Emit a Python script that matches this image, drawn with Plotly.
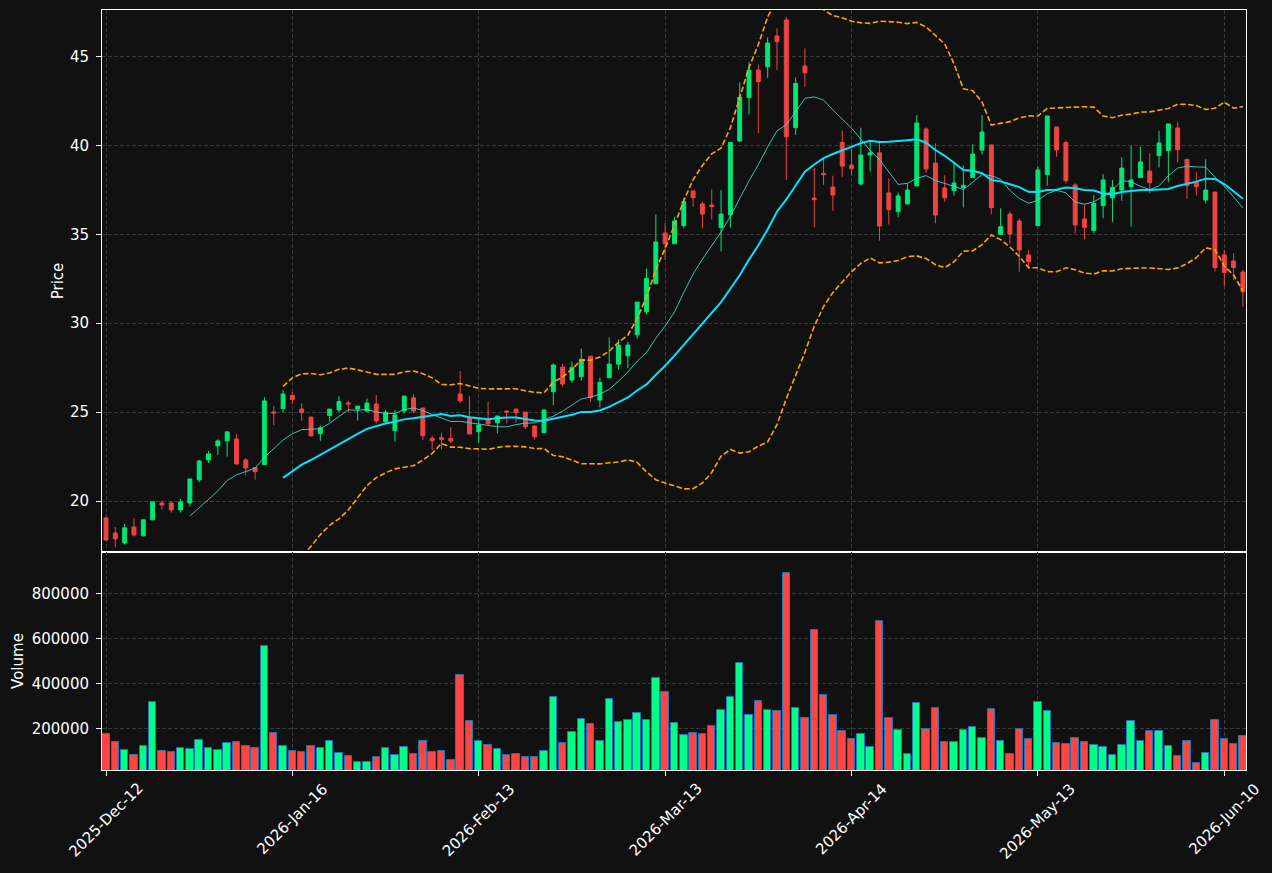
import numpy as np
import pandas as pd
import plotly.graph_objects as go
from plotly.subplots import make_subplots

# ---------------- data ----------------
opens = [19.05, 18.20, 17.64, 18.54, 18.04, 18.94, 19.89, 19.89, 19.50, 19.89,
         21.19, 22.31, 23.10, 23.38, 23.49, 22.31, 21.88, 22.05, 25.01, 25.20,
         25.93, 25.17, 24.72, 23.79, 24.80, 25.12, 25.52, 25.17, 25.06, 25.46,
         24.46, 23.96, 25.06, 25.81, 25.23, 23.52, 23.56, 23.52, 26.02, 24.65,
         23.90, 24.57, 24.40, 25.06, 25.17, 25.00, 24.22, 23.84, 26.15, 27.53,
         26.80, 26.99, 28.15, 25.68, 26.93, 27.70, 28.17, 29.35, 30.65, 32.22,
         35.07, 34.47, 35.49, 37.44, 36.71, 36.65, 35.38, 36.09, 40.25, 42.69,
         44.24, 44.43, 46.16, 47.06, 41.00, 44.47, 37.04, 38.43, 37.66, 40.16,
         38.90, 37.83, 39.46, 39.59, 37.33, 36.28, 36.71, 37.72, 40.93, 39.01,
         37.61, 37.46, 37.63, 38.19, 39.74, 40.03, 35.00, 36.14, 35.75, 33.84,
         35.49, 38.36, 41.04, 40.16, 37.78, 35.86, 35.21, 36.61, 37.06, 37.49,
         37.68, 38.19, 38.56, 39.43, 39.71, 40.98, 39.22, 37.93, 36.93, 37.38,
         33.84, 33.50, 32.88]
highs = [19.10, 18.54, 18.71, 19.05, 18.97, 19.96, 20.02, 19.99, 20.12, 21.24,
         22.31, 22.82, 23.47, 23.90, 23.77, 22.42, 21.88, 25.83, 25.35, 26.25,
         26.15, 25.49, 24.75, 24.25, 25.17, 25.89, 25.64, 25.34, 25.77, 25.96,
         25.12, 25.12, 25.90, 26.02, 25.23, 23.66, 23.84, 24.14, 27.31, 25.90,
         24.65, 25.58, 24.80, 25.12, 25.17, 25.00, 24.27, 25.12, 27.74, 27.70,
         27.83, 28.58, 28.15, 26.95, 29.20, 29.09, 28.96, 31.19, 33.08, 36.12,
         35.62, 35.99, 37.06, 37.44, 36.84, 37.53, 37.49, 40.16, 43.55, 44.68,
         44.56, 46.08, 46.59, 47.24, 43.83, 45.46, 38.75, 39.24, 38.30, 40.83,
         39.82, 41.00, 40.27, 40.27, 38.15, 37.36, 37.83, 41.71, 41.02, 40.12,
         38.32, 39.00, 38.88, 40.06, 41.71, 40.03, 36.46, 36.28, 35.90, 34.12,
         38.81, 41.66, 41.04, 40.27, 37.87, 36.65, 37.21, 38.38, 38.06, 39.33,
         39.99, 39.93, 39.56, 40.83, 41.21, 41.34, 39.22, 38.49, 39.22, 37.38,
         34.12, 33.93, 33.00]
lows = [17.75, 17.40, 17.55, 18.00, 18.00, 18.93, 19.53, 19.35, 19.35, 19.69,
        21.05, 22.14, 22.59, 22.50, 22.05, 21.43, 21.20, 22.05, 24.26, 24.99,
        25.50, 24.52, 23.63, 23.39, 24.46, 24.99, 24.99, 24.52, 25.00, 24.37,
        24.37, 23.34, 24.93, 24.93, 23.43, 22.87, 22.90, 23.24, 25.50, 23.77,
        23.28, 24.22, 23.80, 24.37, 24.42, 24.05, 23.47, 23.84, 25.38, 26.43,
        26.65, 26.76, 25.56, 25.27, 26.93, 27.40, 27.46, 29.15, 30.50, 32.22,
        33.55, 34.47, 35.34, 36.56, 35.34, 35.84, 34.03, 35.38, 40.20, 41.75,
        40.68, 43.81, 44.24, 38.06, 40.59, 43.31, 35.39, 37.78, 36.33, 38.24,
        38.32, 37.74, 38.53, 34.65, 35.56, 35.96, 36.71, 37.72, 38.47, 35.62,
        36.84, 37.18, 36.52, 38.19, 39.50, 36.13, 35.00, 34.49, 32.90, 33.09,
        35.49, 37.74, 39.37, 37.87, 35.06, 34.72, 35.06, 35.90, 35.71, 36.89,
        35.43, 38.19, 37.31, 38.77, 37.93, 39.05, 36.99, 37.18, 36.74, 32.90,
        32.06, 32.43, 30.93]
closes = [17.81, 17.87, 18.49, 18.09, 18.94, 19.95, 19.78, 19.50, 19.95, 21.24,
          22.25, 22.65, 23.38, 23.89, 22.08, 21.86, 21.65, 25.63, 24.95, 26.02,
          25.70, 24.97, 23.66, 24.12, 25.17, 25.60, 25.46, 25.34, 25.51, 24.50,
          24.99, 24.84, 25.90, 25.06, 23.67, 23.39, 23.47, 23.37, 25.64, 23.77,
          24.27, 24.35, 24.78, 25.00, 24.97, 24.18, 23.62, 25.12, 27.65, 26.58,
          27.52, 27.97, 25.83, 26.67, 27.70, 28.77, 28.77, 31.19, 32.52, 34.57,
          34.47, 35.75, 36.84, 37.06, 36.14, 36.56, 36.14, 40.16, 42.71, 44.24,
          43.59, 45.76, 45.84, 40.49, 43.49, 44.09, 36.95, 38.36, 37.21, 38.84,
          38.70, 39.46, 39.59, 35.47, 36.39, 37.16, 37.49, 41.26, 38.68, 36.09,
          37.06, 37.89, 37.76, 39.52, 40.76, 36.50, 35.43, 35.02, 34.12, 33.46,
          38.62, 41.66, 39.75, 38.02, 35.53, 35.39, 36.74, 38.06, 37.64, 38.73,
          38.06, 39.07, 37.91, 40.14, 41.21, 39.76, 37.74, 37.68, 37.49, 33.13,
          32.85, 33.13, 31.77]
volumes = [173300, 137800, 102200, 80000, 120000, 315600, 97800, 93300, 111100, 106700,
           146700, 111100, 102200, 133300, 137800, 120000, 111100, 564400, 177800, 120000,
           97800, 93300, 120000, 111100, 142200, 88900, 75600, 48900, 48900, 71100,
           111100, 80000, 115500, 84400, 142200, 93300, 97800, 57800, 435500, 231100,
           142200, 124400, 106700, 80000, 84400, 71100, 71100, 97800, 337800, 133300,
           182200, 240000, 217800, 142200, 328900, 226700, 235600, 266700, 235600, 422200,
           360000, 222200, 168900, 177800, 173300, 208900, 280000, 337800, 488900, 257800,
           320000, 280000, 275500, 888900, 288900, 244400, 635600, 346700, 257800, 186700,
           151100, 173300, 115500, 675600, 244400, 191100, 84400, 311100, 195500, 288900,
           137800, 137800, 191100, 204400, 155500, 284400, 142200, 84400, 195500, 151100,
           315600, 275500, 133300, 128900, 155500, 137800, 124400, 115500, 80000, 124400,
           231100, 142200, 186700, 186700, 120000, 75600, 142200, 44400, 88900, 235600,
           151100, 128900, 164400]

tick_positions = [0, 20, 40, 60, 80, 100, 120]
tick_labels = ["2025-Dec-12", "2026-Jan-16", "2026-Feb-13", "2026-Mar-13",
               "2026-Apr-14", "2026-May-13", "2026-Jun-10"]

# ---------------- derived indicators ----------------
x = list(range(len(closes)))
cs = pd.Series(closes)
sma10 = cs.rolling(10).mean()
sma20 = cs.rolling(20).mean()
std20 = cs.rolling(20).std()
bb_up = sma20 + 2 * std20
bb_lo = sma20 - 2 * std20

UP_C = "#00e676"
DN_C = "#ef4444"
VUP = "#00ff88"
VDN = "#ff4444"
vol_colors = [VUP if c >= o else VDN for o, c in zip(opens, closes)]

BG = "#111111"
GRID = "#3a3a3a"
FONT = "DejaVu Sans"

fig = make_subplots(rows=2, cols=1, shared_xaxes=True, vertical_spacing=0,
                    row_heights=[0.7132, 0.2868])

fig.add_trace(go.Candlestick(
    x=x, open=opens, high=highs, low=lows, close=closes,
    increasing=dict(line=dict(color=UP_C, width=1), fillcolor=UP_C),
    decreasing=dict(line=dict(color=DN_C, width=1), fillcolor=DN_C),
    showlegend=False, hoverinfo="skip"), row=1, col=1)

fig.add_trace(go.Scatter(x=x, y=bb_up, mode="lines",
                         line=dict(color="#ffa500", width=1.6, dash="5.5px,2.5px"),
                         showlegend=False, hoverinfo="skip"), row=1, col=1)
fig.add_trace(go.Scatter(x=x, y=bb_lo, mode="lines",
                         line=dict(color="#ffa500", width=1.6, dash="5.5px,2.5px"),
                         showlegend=False, hoverinfo="skip"), row=1, col=1)
fig.add_trace(go.Scatter(x=x, y=sma10, mode="lines",
                         line=dict(color="rgba(64,224,208,0.85)", width=1),
                         showlegend=False, hoverinfo="skip"), row=1, col=1)
fig.add_trace(go.Scatter(x=x, y=sma20, mode="lines",
                         line=dict(color="#00e5ff", width=2),
                         showlegend=False, hoverinfo="skip"), row=1, col=1)

fig.add_trace(go.Bar(x=x, y=volumes, marker=dict(color=vol_colors,
                                                 line=dict(color="#1f77b4", width=1)),
                     width=0.8, showlegend=False, hoverinfo="skip"), row=2, col=1)

axis_common = dict(showline=True, linecolor="#ffffff", linewidth=1, mirror=True,
                   showgrid=True, gridcolor=GRID, griddash="4px,2px", gridwidth=1,
                   zeroline=False, tickcolor="#ffffff", ticks="outside", ticklen=5,
                   automargin=False,
                   tickfont=dict(family=FONT, size=15, color="#ffffff"))

fig.update_xaxes(**axis_common, range=[-0.43, 122.33],
                 tickmode="array", tickvals=tick_positions, ticktext=tick_labels,
                 rangeslider=dict(visible=False))
fig.update_xaxes(showticklabels=False, ticks="", row=1, col=1)
fig.update_xaxes(showticklabels=False, row=2, col=1)

# rotated date labels centred under their ticks (as in the reference)
for pos, lab in zip(tick_positions, tick_labels):
    fig.add_annotation(x=pos, xref="x2", y=0, yref="paper", yshift=-7,
                       text=lab, textangle=-45, showarrow=False,
                       xanchor="center", yanchor="top",
                       font=dict(family=FONT, size=15, color="#ffffff"))

fig.update_yaxes(**axis_common)
fig.update_yaxes(range=[17.13, 47.62], tickmode="array", tickvals=[20, 25, 30, 35, 40, 45],
                 title=dict(text="Price", font=dict(family=FONT, size=15, color="#ffffff"),
                            standoff=2),
                 ticklabelstandoff=4, row=1, col=1)
fig.update_yaxes(range=[14800, 983700], tickmode="array",
                 tickvals=[200000, 400000, 600000, 800000], tickformat="d",
                 title=dict(text="Volume", font=dict(family=FONT, size=15, color="#ffffff"),
                            standoff=4),
                 ticklabelstandoff=4, row=2, col=1)

fig.update_layout(width=1272, height=873, paper_bgcolor=BG, plot_bgcolor=BG,
                  margin=dict(l=102, r=26, t=10, b=103),
                  font=dict(family=FONT, size=15, color="#ffffff"),
                  boxgap=0.4, showlegend=False, bargap=0)

fig.write_html("out.html")
